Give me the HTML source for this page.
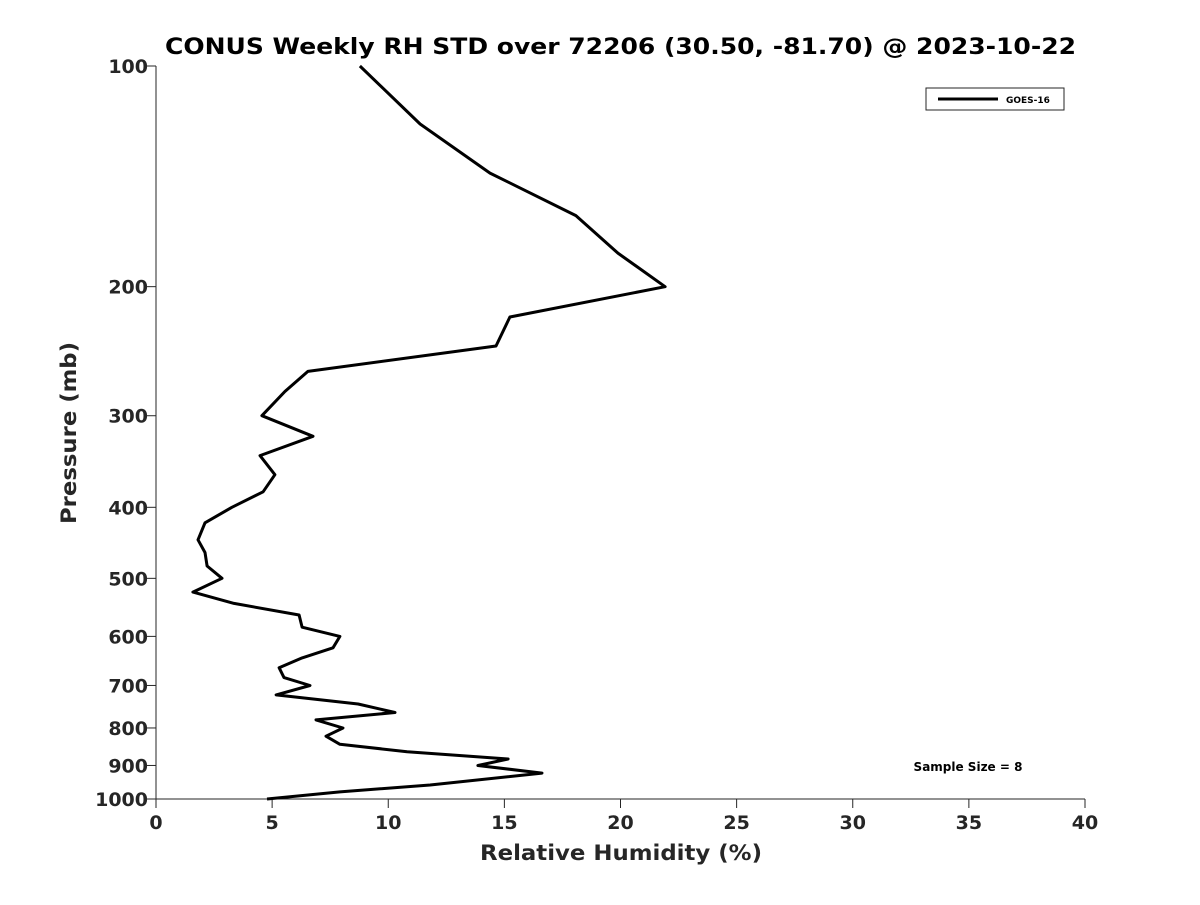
<!DOCTYPE html>
<html><head><meta charset="utf-8"><style>
body{margin:0;background:#fff;}
svg text{font-family:"DejaVu Sans","Liberation Sans",sans-serif;font-weight:bold;fill:#262626;}
</style></head><body>
<svg id="chart" width="1200" height="900" viewBox="0 0 1200 900" xmlns="http://www.w3.org/2000/svg">
<rect width="1200" height="900" fill="#fff"/>
<text x="165" y="54" font-size="22" textLength="911" lengthAdjust="spacingAndGlyphs" style="fill:#000">CONUS Weekly RH STD over 72206 (30.50, -81.70) @ 2023-10-22</text>
<g id="axes"></g>
<path id="series" fill="none" stroke="#000" stroke-width="3" stroke-linejoin="round"/>
<g>
<rect x="926" y="88" width="138" height="22" fill="#fff" stroke="#262626" stroke-width="1"/>
<line x1="938" y1="99" x2="998" y2="99" stroke="#000" stroke-width="3"/>
<text x="1006" y="103" font-size="9" style="fill:#000">GOES-16</text>
</g>
<text x="968" y="771" text-anchor="middle" font-size="12" style="fill:#000">Sample Size = 8</text>
<text x="480" y="860" font-size="21" textLength="282" lengthAdjust="spacingAndGlyphs">Relative Humidity (%)</text>
<text transform="translate(76,524) rotate(-90)" font-size="21" textLength="182" lengthAdjust="spacingAndGlyphs">Pressure (mb)</text>
</svg>
<script>
const rhValues=[8.78,11.37,14.38,18.08,19.89,21.92,15.24,14.64,6.54,5.55,4.56,6.76,4.48,5.12,4.61,3.27,2.11,1.81,2.11,2.20,2.84,1.59,3.36,6.16,6.29,7.92,7.62,6.29,5.30,5.51,6.63,5.17,8.70,10.29,6.89,8.05,7.32,7.92,10.81,15.16,13.86,16.62,11.80,7.92,4.78];
const pressures=[100,120,140,160,180,200,220,241,261,278,300,320,340,361,381,400,420,443,461,481,500,522,541,561,583,600,622,642,662,683,700,721,742,762,780,800,821,842,862,882,900,922,957,978,1000];
const xTicks=[0,5,10,15,20,25,30,35,40];
const yTicks=[100,200,300,400,500,600,700,800,900,1000];
const X0=156,X1=1085,Y0=66,Y1=799;
const xs=v=>X0+(v-0)/40*(X1-X0);
const ys=p=>Y0+Math.log10(p/100)*(Y1-Y0);
const NS="http://www.w3.org/2000/svg";
const axes=document.getElementById('axes');
function mk(t,a){const e=document.createElementNS(NS,t);for(const k in a)e.setAttribute(k,a[k]);axes.appendChild(e);return e;}
const xl=mk('line',{x1:X0,y1:Y1,x2:X1,y2:Y1,stroke:'#262626','stroke-width':1});


const yl=mk('line',{x1:X0,y1:Y0,x2:X0,y2:Y1,stroke:'#262626','stroke-width':1});


xTicks.forEach(v=>{
 mk('line',{x1:xs(v),y1:Y1,x2:xs(v),y2:Y1+9,stroke:'#262626'});
 const t=mk('text',{x:xs(v),y:Y1+30,'text-anchor':'middle','font-size':19});
 t.textContent=v;
 
 
});
yTicks.forEach(p=>{
 mk('line',{x1:X0,y1:ys(p),x2:X0-9,y2:ys(p),stroke:'#262626'});
 const t=mk('text',{x:X0-8,y:ys(p)+7,'text-anchor':'end','font-size':19});
 t.textContent=p;
 
 
});
document.getElementById('series').setAttribute('d',rhValues.map((v,i)=>(i?'L':'M')+xs(v).toFixed(1)+','+ys(pressures[i]).toFixed(1)).join(''));
</script>
</body></html>
